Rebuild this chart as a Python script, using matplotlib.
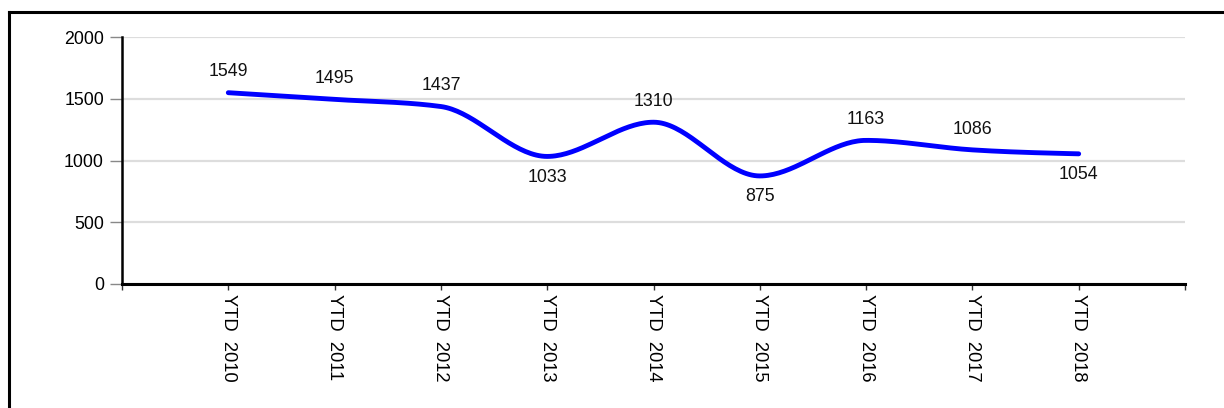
import numpy as np
import matplotlib.pyplot as plt
from matplotlib.lines import Line2D

plt.rcParams['font.family'] = ['Liberation Sans', 'DejaVu Sans']

years = ['YTD  2010', 'YTD  2011', 'YTD  2012', 'YTD  2013', 'YTD  2014',
         'YTD  2015', 'YTD  2016', 'YTD  2017', 'YTD  2018']
values = [1549, 1495, 1437, 1033, 1310, 875, 1163, 1086, 1054]
label_side = [1, 1, 1, -1, 1, -1, 1, 1, -1]   # 1 = above, -1 = below


def monotone_x(x, y, n=40):
    # same as d3.curveMonotoneX
    x = np.asarray(x, float)
    y = np.asarray(y, float)
    h = np.diff(x)
    s = np.diff(y) / h
    t = np.zeros(len(x))
    for i in range(1, len(x) - 1):
        p = (s[i-1] * h[i] + s[i] * h[i-1]) / (h[i-1] + h[i])
        t[i] = (np.sign(s[i-1]) + np.sign(s[i])) * min(abs(s[i-1]), abs(s[i]), 0.5 * abs(p))
    t[0] = (3 * s[0] - t[1]) / 2
    t[-1] = (3 * s[-1] - t[-2]) / 2
    xs, ys = [], []
    u = np.linspace(0, 1, n)
    for i in range(len(x) - 1):
        dx = h[i] / 3
        px = [x[i], x[i] + dx, x[i+1] - dx, x[i+1]]
        py = [y[i], y[i] + dx * t[i], y[i+1] - dx * t[i+1], y[i+1]]
        b = [(1-u)**3, 3*(1-u)**2*u, 3*(1-u)*u**2, u**3]
        xs.append(sum(bb * pp for bb, pp in zip(b, px)))
        ys.append(sum(bb * pp for bb, pp in zip(b, py)))
    return np.concatenate(xs), np.concatenate(ys)


fig = plt.figure(figsize=(12.24, 4.08), dpi=100)
ax = fig.add_axes([122/1224, 1 - 284/408, (1185-122)/1224, (284-37)/408])

pos = np.arange(1, len(values) + 1)
sx, sy = monotone_x(pos, values)
ax.plot(sx, sy, color='#0000ff', lw=3.5, solid_capstyle='round', zorder=3)

for p, v, side in zip(pos, values, label_side):
    ax.annotate(str(v), (p, v), xytext=(0, 15 * side), textcoords='offset points',
                ha='center', va='center', fontsize=12.8, color='#111111')

ax.set_xlim(0, 10)
ax.set_ylim(0, 2000)
ax.set_yticks([0, 500, 1000, 1500, 2000])
ax.set_xticks(range(0, 11))
ax.set_xticklabels([''] + years + [''], rotation=-90, fontsize=13.2)
ax.tick_params(axis='y', length=9, width=1, color='#888888', labelsize=12.8, pad=4)
ax.tick_params(axis='x', length=4, width=1, color='#333333', pad=3)
ax.yaxis.grid(True, color='#dddddd', lw=1.6)
ax.set_axisbelow(True)
for side in ['top', 'right']:
    ax.spines[side].set_visible(False)
ax.spines['left'].set_linewidth(1.8)
ax.spines['bottom'].set_linewidth(2.2)

# outer frame (only top and left edges visible)
fig.add_artist(Line2D([9/1224, 9/1224], [0, 1 - 12/408], color='black', lw=2.2))
fig.add_artist(Line2D([9/1224, 1], [1 - 12/408, 1 - 12/408], color='black', lw=2.2))

fig.savefig('out.png', dpi=100, facecolor='white')
